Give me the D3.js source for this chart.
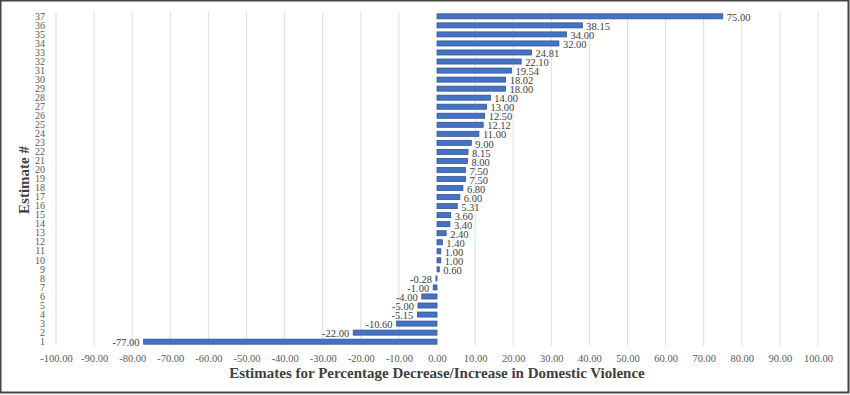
<!DOCTYPE html>
<head>
  <meta charset="utf-8">
  <script src="https://d3js.org/d3.v7.min.js"></script>
  <style>
    body { margin:0; background:#fff; }
    svg { display:block; font-family:"Liberation Serif", "Times New Roman", serif; }
  </style>
</head>
<body>
  <div class="bar-chart"></div>
  <script>
    // estimate numbers 1..37 and their % change
    const estimates = d3.range(1, 38);
    const values = [
      -77.00, -22.00, -10.60, -5.15, -5.00, -4.00, -1.00, -0.28, 0.60, 1.00,
      1.00, 1.40, 2.40, 3.40, 3.60, 5.31, 6.00, 6.80, 7.50, 7.50,
      8.00, 8.15, 9.00, 11.00, 12.12, 12.50, 13.00, 14.00, 18.00, 18.02,
      19.54, 22.10, 24.81, 32.00, 34.00, 38.15, 75.00
    ];
    const xTicks = d3.range(-100, 101, 10);

    const width = 850, height = 395;
    const margin = { top: 12, right: 32, bottom: 49, left: 56 };

    // plain hyphen for negatives, like the original
    const fmt = d => d.toFixed(2);

    const svg = d3.select('.bar-chart')
      .append('svg')
        .attr('width', width)
        .attr('height', height);

    // outer frame
    svg.append('rect')
      .attr('x', 0.5).attr('y', 0.5)
      .attr('width', width - 2).attr('height', height - 3)
      .attr('fill', '#fff')
      .attr('stroke', '#444')
      .attr('stroke-width', 2);

    const xScale = d3.scaleLinear()
      .domain([-100, 100])
      .range([margin.left, width - margin.right]);

    const yScale = d3.scaleBand()
      .domain(estimates)
      .range([height - margin.bottom, margin.top])
      .paddingInner(0.44)
      .paddingOuter(0.2);

    // gridlines (none at zero)
    svg.append('g')
      .selectAll('line')
      .data(xTicks.filter(t => t !== 0))
      .enter()
      .append('line')
        .attr('x1', d => xScale(d)).attr('x2', d => xScale(d))
        .attr('y1', margin.top).attr('y2', height - margin.bottom)
        .attr('stroke', '#dedede')
        .attr('stroke-width', 1);

    // x axis labels
    const xAxis = svg.append('g')
      .attr('transform', `translate(0, ${height - margin.bottom + 6})`)
      .call(d3.axisBottom(xScale).tickValues(xTicks).tickFormat(fmt).tickSize(0));
    xAxis.select('.domain').remove();
    xAxis.selectAll('text')
      .attr('font-family', '"Liberation Serif", serif')
      .attr('font-size', 10.5)
      .attr('fill', '#595959');

    // y axis labels
    const yAxis = svg.append('g')
      .attr('transform', `translate(${margin.left - 8}, 0)`)
      .call(d3.axisLeft(yScale).tickSize(0));
    yAxis.select('.domain').remove();
    yAxis.selectAll('text')
      .attr('font-family', '"Liberation Serif", serif')
      .attr('font-size', 10)
      .attr('fill', '#595959');

    // bars
    svg.append('g')
      .selectAll('rect')
      .data(values)
      .enter()
      .append('rect')
        .attr('x', d => xScale(Math.min(0, d)))
        .attr('y', (d, i) => yScale(estimates[i]))
        .attr('width', d => Math.abs(xScale(d) - xScale(0)))
        .attr('height', yScale.bandwidth())
        .attr('fill', '#4472C4')
        .attr('stroke', '#2F528F')
        .attr('stroke-width', 0.75);

    // data labels
    svg.append('g')
      .selectAll('text')
      .data(values)
      .enter()
      .append('text')
        .attr('x', d => d < 0 ? xScale(d) - 4 : xScale(d) + 4)
        .attr('y', (d, i) => yScale(estimates[i]) + yScale.bandwidth() / 2 + 1)
        .attr('dy', '0.35em')
        .attr('text-anchor', d => d < 0 ? 'end' : 'start')
        .attr('font-size', 10.5)
        .attr('fill', '#404040')
        .text(fmt);

    // axis titles
    svg.append('text')
      .attr('x', xScale(0))
      .attr('y', 378)
      .attr('text-anchor', 'middle')
      .attr('font-size', 15)
      .attr('font-weight', 'bold')
      .attr('fill', '#404040')
      .text('Estimates for Percentage Decrease/Increase in Domestic Violence');

    svg.append('text')
      .attr('transform', 'translate(29, 180) rotate(-90)')
      .attr('text-anchor', 'middle')
      .attr('font-size', 15)
      .attr('font-weight', 'bold')
      .attr('fill', '#404040')
      .text('Estimate #');
  </script>
</body>
